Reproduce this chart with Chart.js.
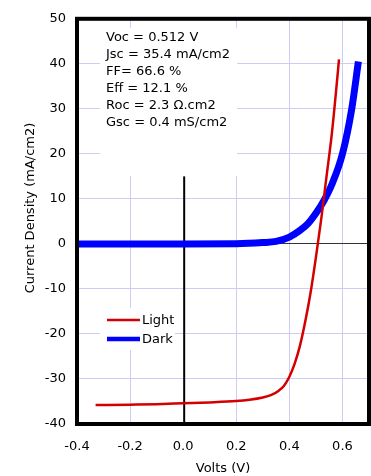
<!DOCTYPE html>
<html>
<head>
<meta charset="utf-8">
<script src="https://cdn.jsdelivr.net/npm/chart.js@4/dist/chart.umd.min.js"></script>
<style>
  html, body { margin: 0; padding: 0; background: #fff; }
  #wrap { width: 371px; height: 476px; }
</style>
</head>
<body>
<div id="wrap"><canvas id="jvChart" width="371" height="476"></canvas></div>
<script>
  // J-V curves, illuminated and dark
  const lightV = [-0.33, -0.2, -0.1, 0, 0.1, 0.2, 0.25, 0.3, 0.33, 0.36, 0.38, 0.4, 0.42, 0.44, 0.46, 0.48, 0.5, 0.52, 0.54, 0.56, 0.58, 0.587];
  const lightJ = [-35.8, -35.7, -35.6, -35.4, -35.2, -34.9, -34.6, -34.1, -33.6, -32.6, -31.5, -29.5, -26.6, -22.6, -17.2, -10.8, -3, 5.5, 15, 24.5, 36.5, 41];

  const darkV = [-0.4, 0, 0.2, 0.3, 0.35, 0.4, 0.44, 0.47, 0.5, 0.53, 0.56, 0.6, 0.635, 0.66];
  const darkJ = [0, 0, 0.05, 0.3, 0.55, 1.5, 3.0, 4.5, 6.8, 9.6, 13.2, 20, 30, 40.5];

  const seriesNames = ['Light', 'Dark'];
  const cellParams = [
    'Voc = 0.512 V',
    'Jsc = 35.4 mA/cm2',
    'FF= 66.6 %',
    'Eff = 12.1 %',
    'Roc = 2.3 \u03A9.cm2',
    'Gsc = 0.4 mS/cm2'
  ];
  const yTitle = 'Current Density (mA/cm2)';

  const FONT = 'DejaVu Sans, Verdana, sans-serif';
  const GRID = '#cdcdf3';

  const toPoints = (xs, ys) => xs.map((x, i) => ({ x: x, y: ys[i] }));

  // white panels, zero lines, frame, parameter text, legend, y title
  const decorations = {
    id: 'decorations',
    beforeDatasetsDraw(chart) {
      const { ctx, chartArea: a, scales: { x, y } } = chart;
      ctx.save();
      ctx.fillStyle = '#fff';
      ctx.fillRect(a.left + 23, a.top + 9, 137, 148);   // parameter panel
      ctx.fillRect(a.left + 23, 308, 75, 42);           // legend panel

      // vertical line at V = 0
      ctx.strokeStyle = '#000';
      ctx.lineWidth = 2;
      ctx.beginPath();
      ctx.moveTo(x.getPixelForValue(0) + 1, y.getPixelForValue(15));
      ctx.lineTo(x.getPixelForValue(0) + 1, a.bottom);
      ctx.stroke();
      ctx.restore();
    },
    afterDatasetsDraw(chart) {
      const { ctx, chartArea: a } = chart;
      ctx.save();
      ctx.strokeStyle = '#000';
      ctx.lineWidth = 4;
      ctx.strokeRect(a.left, a.top, a.right - a.left, a.bottom - a.top);

      ctx.fillStyle = '#000';
      ctx.font = '13px ' + FONT;
      ctx.textBaseline = 'middle';
      ctx.textAlign = 'left';
      cellParams.forEach((t, i) => ctx.fillText(t, a.left + 29, a.top + 19 + i * 17));

      // legend
      chart.data.datasets.forEach((ds, i) => {
        const ly = 320 + i * 19;
        ctx.strokeStyle = ds.borderColor;
        ctx.lineWidth = i === 0 ? 2.5 : 4.5;
        ctx.beginPath();
        ctx.moveTo(a.left + 30, ly);
        ctx.lineTo(a.left + 63, ly);
        ctx.stroke();
        ctx.fillStyle = '#000';
        ctx.fillText(ds.label, a.left + 65, ly + 1);
      });

      // y axis title, sits a little above the middle of the plot
      ctx.translate(30.5, 208);
      ctx.rotate(-Math.PI / 2);
      ctx.textAlign = 'center';
      ctx.fillText(yTitle, 0, 0);
      ctx.restore();
    }
  };

  new Chart(document.getElementById('jvChart'), {
    type: 'scatter',
    data: {
      datasets: [
        {
          label: seriesNames[0],
          data: toPoints(lightV, lightJ),
          showLine: true,
          borderColor: '#d40000',
          borderWidth: 2.5,
          pointRadius: 0,
          cubicInterpolationMode: 'monotone'
        },
        {
          label: seriesNames[1],
          data: toPoints(darkV, darkJ),
          showLine: true,
          borderColor: '#0000ff',
          borderWidth: 7,
          pointRadius: 0,
          cubicInterpolationMode: 'monotone'
        }
      ]
    },
    options: {
      responsive: false,
      animation: false,
      layout: { padding: { top: 16, right: 2, left: 0, bottom: 0 } },
      plugins: { legend: { display: false }, tooltip: { enabled: false } },
      scales: {
        x: {
          type: 'linear',
          min: -0.4,
          max: 0.7,
          afterFit: s => { s.height = 52; },
          border: { display: false },
          grid: {
            drawTicks: false,
            lineWidth: 1,
            color: c => (c.tick && Math.abs(c.tick.value) < 1e-9) ? 'rgba(0,0,0,0)' : GRID
          },
          ticks: {
            stepSize: 0.2,
            includeBounds: false,
            padding: 15,
            color: '#000',
            font: { family: FONT, size: 13 },
            callback: v => v.toFixed(1)
          },
          title: {
            display: true,
            text: 'Volts (V)',
            color: '#000',
            font: { family: FONT, size: 13 },
            padding: { top: 0, bottom: 0 }
          }
        },
        y: {
          min: -40,
          max: 50,
          afterFit: s => { s.width = 77; },
          border: { display: false },
          grid: {
            drawTicks: false,
            lineWidth: 1,
            color: c => (c.tick && c.tick.value === 0) ? '#333' : GRID
          },
          ticks: {
            stepSize: 10,
            padding: 11,
            color: '#000',
            font: { family: FONT, size: 13 }
          }
        }
      }
    },
    plugins: [decorations]
  });
</script>
</body>
</html>
